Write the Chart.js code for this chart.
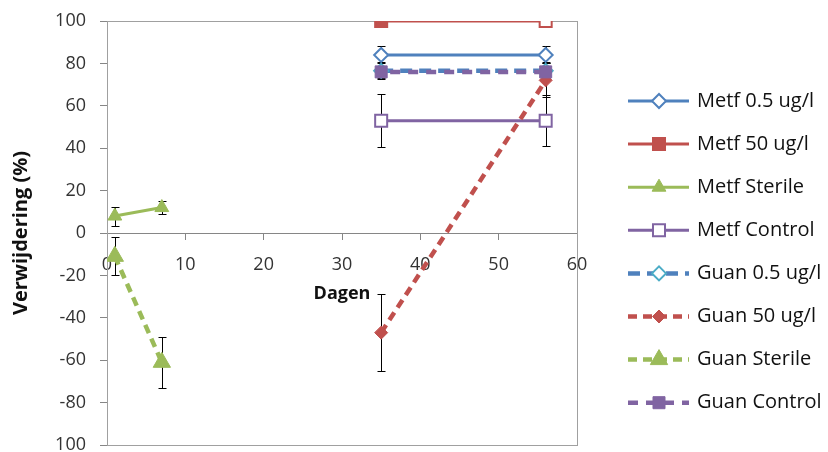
<!DOCTYPE html>
<html>
<head>
<meta charset="utf-8">
<script src="https://cdn.jsdelivr.net/npm/chart.js@4/dist/chart.umd.min.js"></script>
<style>
  html, body { margin: 0; padding: 0; background: #fff; }
  #wrap { width: 828px; height: 452px; }
</style>
</head>
<body>
<div id="wrap"><canvas id="c" width="828" height="452"></canvas></div>
<script>
// Sampling days
const sterileDays = [1, 7];
const treatDays = [35, 56];

// Series names
const seriesNames = [
  'Metf 0.5 ug/l', 'Metf 50 ug/l', 'Metf Sterile', 'Metf Control',
  'Guan 0.5 ug/l', 'Guan 50 ug/l', 'Guan Sterile', 'Guan Control'
];

// Removal (%) per series
const metf05 = [84, 84];
const metf50 = [100, 100];
const metfSterile = [8, 12];
const metfControl = [53, 53];
const guan05 = [76.5, 76.5];
const guan50 = [-47, 72];
const guanSterile = [-11, -61];
const guanControl = [76, 76];

// Error bar half-widths per series
const metf05Err = [4, 4];
const metf50Err = [0, 0];
const metfSterileErr = [4.5, 3];
const metfControlErr = [12.5, 12];
const guan05Err = [4, 4];
const guan50Err = [18, 8];
const guanSterileErr = [9, 12];
const guanControlErr = [3, 3];

// Axis tick labels (bottom to top)
const yTickLabels = ['100', '-80', '-60', '-40', '-20', '0', '20', '40', '60', '80', '100'];

const FONT = '"Open Sans", Lato, sans-serif';
const BLUE = '#4F81BD', RED = '#C0504D', GREEN = '#9BBB59', PURPLE = '#8064A2', TEAL = '#4BACC6';

function pts(xs, ys) { return xs.map((x, i) => ({ x: x, y: ys[i] })); }

const datasets = [
  { label: seriesNames[0], data: pts(treatDays, metf05), err: metf05Err,
    borderColor: BLUE, borderWidth: 3, pointStyle: 'rectRot', pointRadius: 7,
    pointBackgroundColor: '#fff', pointBorderColor: BLUE, pointBorderWidth: 2 },
  { label: seriesNames[1], data: pts(treatDays, metf50), err: metf50Err,
    borderColor: RED, borderWidth: 3, pointStyle: 'rect', pointRadius: 8.5,
    pointBackgroundColor: [RED, '#fff'], pointBorderColor: RED, pointBorderWidth: 2 },
  { label: seriesNames[2], data: pts(sterileDays, metfSterile), err: metfSterileErr,
    borderColor: GREEN, borderWidth: 3, pointStyle: 'triangle', pointRadius: 8,
    pointBackgroundColor: GREEN, pointBorderColor: GREEN, pointBorderWidth: 1 },
  { label: seriesNames[3], data: pts(treatDays, metfControl), err: metfControlErr,
    borderColor: PURPLE, borderWidth: 3, pointStyle: 'rect', pointRadius: 8.5,
    pointBackgroundColor: '#fff', pointBorderColor: PURPLE, pointBorderWidth: 2 },
  { label: seriesNames[4], data: pts(treatDays, guan05), err: guan05Err,
    borderColor: BLUE, borderWidth: 4.5, borderDash: [12, 7], pointStyle: 'rectRot', pointRadius: 7,
    pointBackgroundColor: '#fff', pointBorderColor: TEAL, pointBorderWidth: 2 },
  { label: seriesNames[5], data: pts(treatDays, guan50), err: guan50Err,
    borderColor: RED, borderWidth: 4.5, borderDash: [9, 6], pointStyle: 'rectRot', pointRadius: 6.5,
    pointBackgroundColor: RED, pointBorderColor: RED, pointBorderWidth: 1 },
  { label: seriesNames[6], data: pts(sterileDays, guanSterile), err: guanSterileErr,
    borderColor: GREEN, borderWidth: 4.5, borderDash: [9, 6], pointStyle: 'triangle', pointRadius: 10,
    pointBackgroundColor: GREEN, pointBorderColor: GREEN, pointBorderWidth: 1 },
  { label: seriesNames[7], data: pts(treatDays, guanControl), err: guanControlErr,
    borderColor: PURPLE, borderWidth: 4.5, borderDash: [10, 8], borderDashOffset: 9,
    pointStyle: 'rect', pointRadius: 8.5,
    pointBackgroundColor: PURPLE, pointBorderColor: PURPLE, pointBorderWidth: 1 }
];
// later series drawn on top
datasets.forEach((d, i) => { d.order = datasets.length - i; d.fill = false; d.tension = 0; d.pointHoverRadius = d.pointRadius; });

// Plot frame + error bars underneath the series
const frameAndErrors = {
  id: 'frameAndErrors',
  beforeDatasetsDraw(chart) {
    const { ctx, chartArea: a, scales } = chart;
    ctx.save();
    ctx.strokeStyle = '#A0A0A0';
    ctx.lineWidth = 1;
    ctx.strokeRect(a.left + 0.5, a.top + 0.5, a.right - a.left, a.bottom - a.top);
    ctx.strokeStyle = '#000';
    ctx.lineWidth = 1;
    chart.data.datasets.forEach(ds => {
      ds.data.forEach((p, i) => {
        const e = ds.err[i];
        if (!e) return;
        const x = Math.round(scales.x.getPixelForValue(p.x)) + 0.5;
        const y1 = Math.round(scales.y.getPixelForValue(p.y + e)) + 0.5;
        const y2 = Math.round(scales.y.getPixelForValue(p.y - e)) + 0.5;
        ctx.beginPath();
        ctx.moveTo(x, y1); ctx.lineTo(x, y2);
        ctx.moveTo(x - 4, y1); ctx.lineTo(x + 4, y1);
        ctx.moveTo(x - 4, y2); ctx.lineTo(x + 4, y2);
        ctx.stroke();
      });
    });
    ctx.restore();
  }
};

// Legend to the right: line with marker in the middle, then the name
const sideLegend = {
  id: 'sideLegend',
  afterDraw(chart) {
    const ctx = chart.ctx;
    const x0 = 628, x1 = 689, xm = 659, xt = 697, top = 101, gap = 43.1;
    ctx.save();
    chart.data.datasets.forEach((ds, i) => {
      const y = top + i * gap;
      ctx.strokeStyle = ds.borderColor;
      ctx.lineWidth = ds.borderWidth;
      ctx.setLineDash(ds.borderDash || []);
      ctx.lineDashOffset = 0;
      ctx.beginPath(); ctx.moveTo(x0, y); ctx.lineTo(x1, y); ctx.stroke();
      ctx.setLineDash([]);
      const bg = Array.isArray(ds.pointBackgroundColor) ? ds.pointBackgroundColor[0] : ds.pointBackgroundColor;
      ctx.fillStyle = bg;
      ctx.strokeStyle = ds.pointBorderColor;
      ctx.lineWidth = ds.pointBorderWidth;
      Chart.helpers.drawPoint(ctx, { pointStyle: ds.pointStyle, radius: ds.pointRadius, borderWidth: ds.pointBorderWidth, rotation: 0 }, xm, y);
      ctx.fillStyle = '#111';
      ctx.font = '20px ' + FONT;
      ctx.textAlign = 'left';
      ctx.textBaseline = 'middle';
      ctx.fillText(ds.label, xt, y);
    });
    ctx.restore();
  }
};

const AXIS = '#868686';

new Chart(document.getElementById('c'), {
  type: 'line',
  data: { datasets: datasets },
  plugins: [frameAndErrors, sideLegend],
  options: {
    responsive: false,
    animation: false,
    events: [],
    layout: { autoPadding: false, padding: { left: 6, right: 251, top: 21, bottom: 7 } },
    plugins: { legend: { display: false }, tooltip: { enabled: false } },
    scales: {
      x: {
        type: 'linear',
        position: { y: 0 },
        min: 0, max: 60,
        ticks: { stepSize: 10, autoSkip: false, maxRotation: 0, padding: 15, color: '#333', font: { family: FONT, size: 18 } },
        grid: { display: true, drawOnChartArea: false, drawTicks: true, tickLength: 6, color: AXIS },
        border: { display: true, color: AXIS, width: 1 },
        title: { display: true, text: 'Dagen', color: '#111', font: { family: FONT, size: 18, weight: 'bold' }, padding: { top: -8, bottom: 0 } },
        afterFit(scale) { scale.paddingTop = 0; scale.paddingBottom = 0; }
      },
      y: {
        type: 'linear',
        position: 'left',
        min: -100, max: 100,
        ticks: {
          stepSize: 20, autoSkip: false, padding: 14, color: '#333', font: { family: FONT, size: 18, lineHeight: 0.6 },
          callback: (v, i) => yTickLabels[i]
        },
        grid: { display: true, drawOnChartArea: false, drawTicks: true, tickLength: 7, color: AXIS },
        border: { display: true, color: AXIS, width: 1 },
        title: { display: true, text: 'Verwijdering (%)', color: '#111', font: { family: FONT, size: 20, weight: 'bold' }, padding: { top: 3, bottom: 4 } },
        afterFit(scale) { scale.width = 101; scale.paddingTop = 0; scale.paddingBottom = 0; }
      }
    }
  }
});
</script>
</body>
</html>
